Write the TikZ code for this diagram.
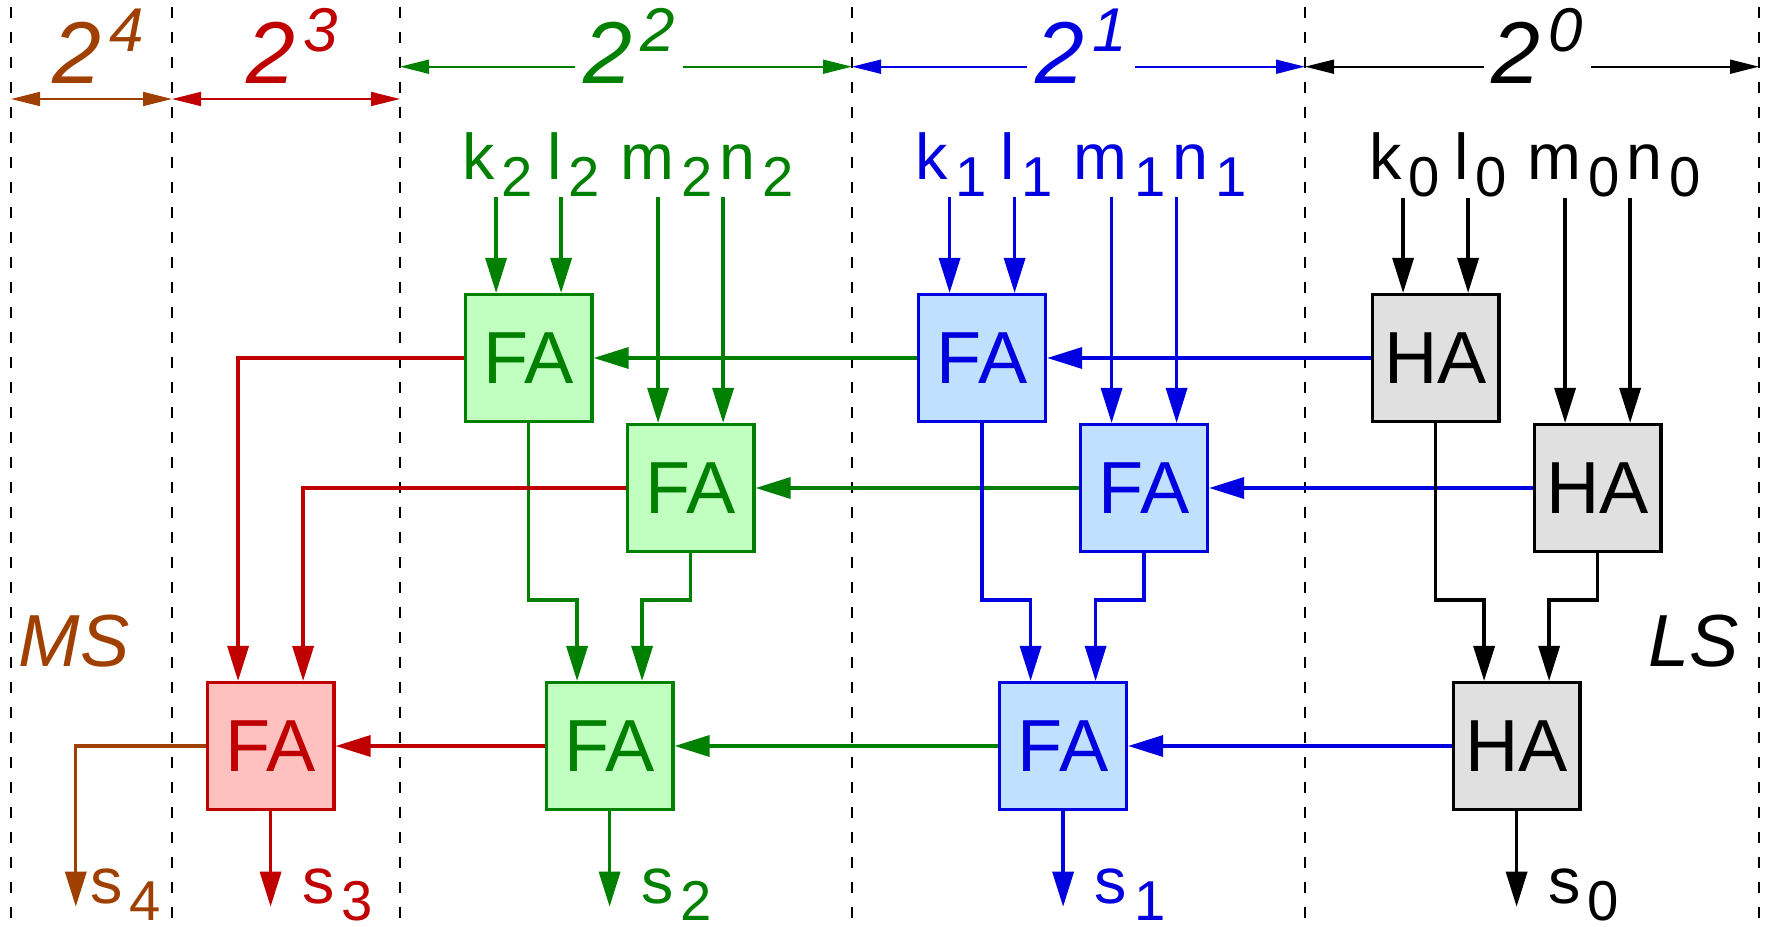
\documentclass[tikz,border=0pt]{standalone}
\usepackage{fontspec}
\setmainfont{Liberation Sans}
\usetikzlibrary{arrows.meta,calc}
\definecolor{Verde}{HTML}{008000}
\definecolor{VerdeClaro}{HTML}{C0FFC0}
\definecolor{Azul}{HTML}{0000E0}
\definecolor{AzulClaro}{HTML}{C0E0FF}
\definecolor{Rojo}{HTML}{C00000}
\definecolor{RojoClaro}{HTML}{FFC0C0}
\definecolor{Gris}{HTML}{E0E0E0}
\definecolor{Marron}{HTML}{A04000}
\newcommand{\bitsub}[2]{#1\kern0.7mm\raisebox{-1.67mm}{\fontsize{16}{19}\selectfont #2}}
\newcommand{\peso}[1]{2\kern0.8mm\raisebox{3.16mm}{\fontsize{17.6}{20}\selectfont #1}}

\begin{document}
\begin{tikzpicture}[
  adder/.style={draw,line width=0.95pt,minimum size=12.67mm,inner sep=0pt,font=\fontsize{21}{25}\selectfont},
  wire/.style={line width=0.95pt},
  flow/.style={wire,-{Triangle[length=3.5mm,width=2.1mm]}},
  span/.style={line width=0.5pt,{Triangle[length=2.9mm,width=1.4mm]}-{Triangle[length=2.9mm,width=1.4mm]}},
  bit/.style={inner sep=0pt,anchor=base west,font=\fontsize{18.4}{22}\selectfont},
  weight/.style={anchor=base,fill=white,inner xsep=0.8mm,inner ysep=0pt,font=\fontsize{25}{30}\selectfont\itshape},
  side/.style={anchor=base,inner sep=0pt,font=\fontsize{21}{25}\selectfont\itshape},
  column/.style={line width=0.35pt,dash pattern=on 1.15mm off 1.35mm,dash phase=1.83mm}
]
  \useasboundingbox (0,0) rectangle (17.69,9.26);

  % columnas de peso
  \foreach \i/\x in {0/0.11,1/1.72,2/4.00,3/8.52,4/13.05,5/17.59}{
    \coordinate (d\i) at (\x,9.26);
    \draw[column] (d\i) -- ++(0,-9.26);
  }
  \coordinate (hi) at (0,8.593);
  \coordinate (lo) at (0,8.27);
  \draw[span,Marron] (d0 |- lo) -- (d1 |- lo);
  \draw[span,Rojo] (d1 |- lo) -- (d2 |- lo);
  \draw[span,Verde] (d2 |- hi) -- (d3 |- hi);
  \draw[span,Azul] (d3 |- hi) -- (d4 |- hi);
  \draw[span,black] (d4 |- hi) -- (d5 |- hi);
  \node[weight,text=Marron] (p4) at (0.98,8.427) {\peso{4}};
  \node[weight,text=Rojo] (p3) at (2.92,8.427) {\peso{3}};
  \node[weight,text=Verde] (p2) at (6.29,8.427) {\peso{2}};
  \node[weight,text=Azul] (p1) at (10.81,8.427) {\peso{1}};
  \node[weight,text=black] (p0) at (15.375,8.427) {\peso{0}};

  % sumadores
  \foreach \k/\col/\tone/\kind/\x in {2/Verde/VerdeClaro/FA/5.286,1/Azul/AzulClaro/FA/9.821,0/black/Gris/HA/14.356}{
    \node[adder,draw=\col,fill=\tone,text=\col] (a\k) at (\x,5.68) {\kind};
    \node[adder,draw=\col,fill=\tone,text=\col] (b\k) at (\x+1.62,4.38) {\kind};
    \node[adder,draw=\col,fill=\tone,text=\col] (c\k) at (\x+0.81,1.80) {\kind};
  }
  \node[adder,draw=Rojo,fill=RojoClaro,text=Rojo] (c3) at (2.706,1.80) {FA};
  \foreach \n in {a2,a1,a0,b2,b1,b0,c3,c2,c1,c0}{
    \coordinate (\n-l) at ($(\n.north west)!.25!(\n.north east)$);
    \coordinate (\n-r) at ($(\n.north west)!.75!(\n.north east)$);
  }

  % entradas
  \foreach \k/\col/\x in {2/Verde/5.286,1/Azul/9.821,0/black/14.356}{
    \node[bit,text=\col] (k\k) at (\x-0.669,7.46) {\bitsub{k}{\k}};
    \node[bit,text=\col] (l\k) at (\x+0.177,7.46) {\bitsub{l}{\k}};
    \node[bit,text=\col] (m\k) at (\x+0.91,7.46) {\bitsub{m}{\k}};
    \node[bit,text=\col] (n\k) at (\x+1.901,7.46) {\bitsub{n}{\k}};
    \draw[flow,\col] (k\k.south -| a\k-l) -- (a\k-l);
    \draw[flow,\col] (l\k.south -| a\k-r) -- (a\k-r);
    \draw[flow,\col] (m\k.south -| b\k-l) -- (b\k-l);
    \draw[flow,\col] (n\k.south -| b\k-r) -- (b\k-r);
  }

  % acarreos
  \draw[flow,Azul] (a0.west) -- (a1.east);
  \draw[flow,Verde] (a1.west) -- (a2.east);
  \draw[flow,Azul] (b0.west) -- (b1.east);
  \draw[flow,Verde] (b1.west) -- (b2.east);
  \draw[flow,Azul] (c0.west) -- (c1.east);
  \draw[flow,Verde] (c1.west) -- (c2.east);
  \draw[flow,Rojo] (c2.west) -- (c3.east);

  \coordinate (jog) at (0,3.26);
  \foreach \k/\col in {2/Verde,1/Azul,0/black}{
    \draw[flow,\col] (a\k.south) -- (a\k.south |- jog) -| (c\k-l);
    \draw[flow,\col] (b\k.south) -- (b\k.south |- jog) -| (c\k-r);
  }
  \draw[flow,Rojo] (a2.west) -| (c3-l);
  \draw[flow,Rojo] (b2.west) -| (c3-r);

  % salidas
  \coordinate (tip) at (0,0.193);
  \coordinate (t4) at (0.758,0.193);
  \draw[flow,Marron] (c3.west) -| (t4);
  \node[bit,text=Marron] (s4) at ([shift={(1.4mm,0.3mm)}]t4) {\bitsub{s}{4}};
  \foreach \k/\col in {3/Rojo,2/Verde,1/Azul,0/black}{
    \coordinate (t\k) at (c\k.south |- tip);
    \draw[flow,\col] (c\k.south) -- (t\k);
    \node[bit,text=\col] (s\k) at ([shift={(3.1mm,0.3mm)}]t\k) {\bitsub{s}{\k}};
  }

  \node[side,text=Marron] (ms) at (0.742,2.593) {MS};
  \node[side] (ls) at (16.935,2.593) {LS};
\end{tikzpicture}
\end{document}
